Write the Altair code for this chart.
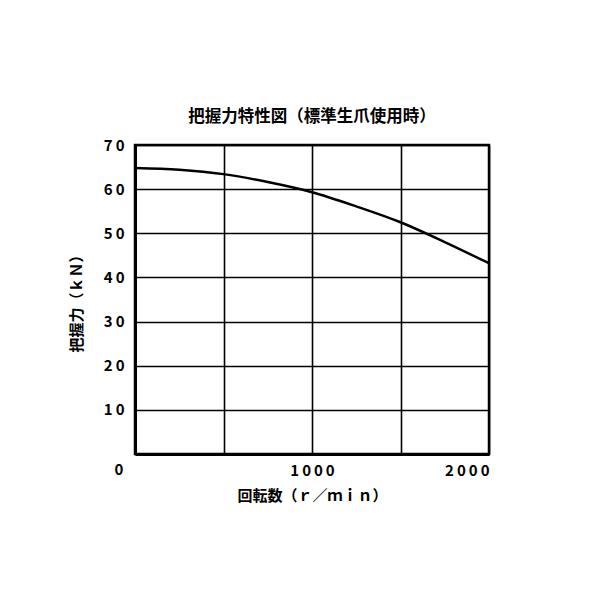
import altair as alt
import pandas as pd

rpm = [0, 250, 500, 750, 1000, 1250, 1500, 1750, 2000]
force = [64.8, 64.4, 63.4, 61.6, 59.3, 56.1, 52.5, 48.0, 43.2]
x_ticks = [0, 500, 1000, 1500, 2000]
x_labels = [1000, 2000]
y_ticks = [0, 10, 20, 30, 40, 50, 60, 70]
y_labels = [10, 20, 30, 40, 50, 60, 70]
origin_label = ["0"]

title = "把握力特性図（標準生爪使用時）"
x_title = "回転数（ｒ／ｍｉｎ）"
y_title = "把握力（ｋＮ）"

FONT = "Noto Sans CJK JP"
SP = "\u2009"

df = pd.DataFrame({"rpm": rpm, "force": force})

x_enc = alt.X("rpm:Q", scale=alt.Scale(domain=[0, 2000], nice=False),
              axis=alt.Axis(values=x_ticks, title=x_title, grid=True,
                            labelExpr="indexof([" + ",".join(str(v) for v in x_labels) + "], datum.value) >= 0 ? join(split(toString(datum.value), ''), '" + SP + "') : ''",
                            labelPadding=9, titlePadding=10, ticks=False,
                            domainColor="black", domainWidth=3))
y_enc = alt.Y("force:Q", scale=alt.Scale(domain=[0, 70], nice=False),
              axis=alt.Axis(values=y_ticks, title=y_title, grid=True,
                            labelExpr="indexof([" + ",".join(str(v) for v in y_labels) + "], datum.value) >= 0 ? join(split(toString(datum.value), ''), '" + SP + "') : ''",
                            labelPadding=11, titlePadding=19, ticks=False,
                            domainColor="black", domainWidth=3))

line = alt.Chart(df).mark_line(color="black", strokeWidth=2.5, interpolate="monotone").encode(
    x=x_enc, y=y_enc)

origin = alt.Chart(pd.DataFrame({"t": origin_label, "x": [0], "y": [0]})).mark_text(
    font=FONT, fontSize=15, fontWeight="bold", dx=-16, dy=16, color="black"
).encode(x=alt.X("x:Q"), y=alt.Y("y:Q"), text="t:N")

chart = alt.layer(line, origin).properties(
    width=354, height=309,
    title=alt.TitleParams(title, font=FONT, fontSize=16.5, fontWeight="bold",
                          color="black", offset=13, anchor="middle"),
    autosize=alt.AutoSizeParams(type="none"),
    padding={"left": 127, "top": 137, "right": 100, "bottom": 130},
).configure_axis(
    labelFont=FONT, labelFontSize=15, labelFontWeight="bold", labelColor="black",
    titleFont=FONT, titleFontSize=15, titleFontWeight="bold", titleColor="black",
    gridColor="black", gridWidth=1.6, gridOpacity=1,
).configure_view(stroke="black", strokeWidth=2.5)

chart.save("out.html", embed_options={"renderer": "svg", "actions": False})
